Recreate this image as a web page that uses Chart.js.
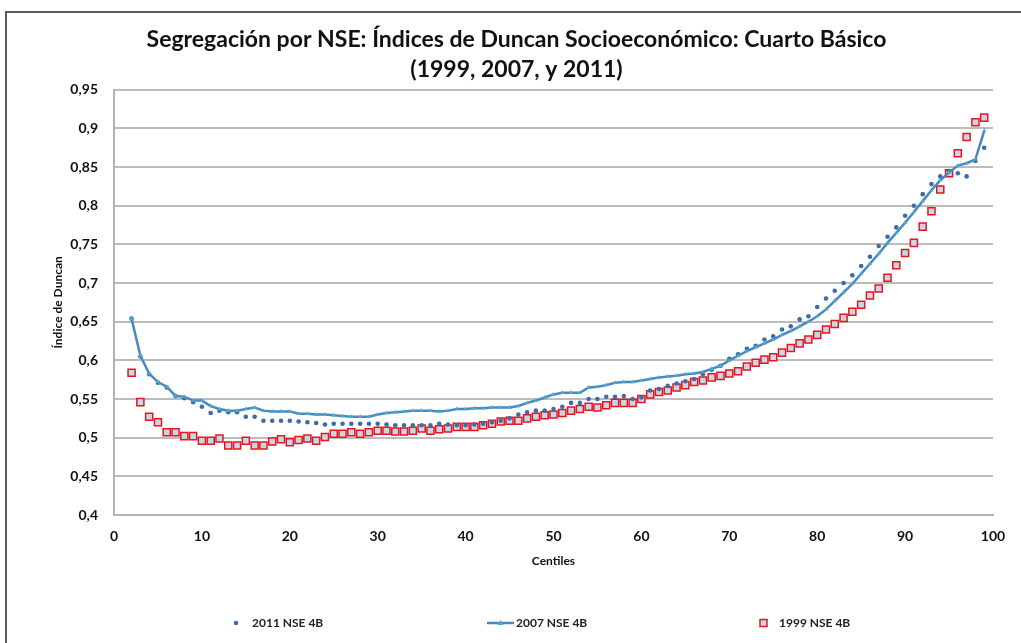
<!DOCTYPE html>
<html>
<head>
<meta charset="utf-8">
<script src="https://cdn.jsdelivr.net/npm/chart.js@4"></script>
<style>
  html, body { margin: 0; padding: 0; background: #fff; }
  #wrap { position: relative; width: 1021px; height: 643px; }
</style>
</head>
<body>
<div id="wrap"><canvas id="chart" width="1021" height="643"></canvas></div>
<script>
// Centiles (x axis)
const centiles = [
  2, 3, 4, 5, 6, 7, 8, 9, 10, 11, 12, 13, 14, 15, 16, 17, 18, 19, 20, 21,
  22, 23, 24, 25, 26, 27, 28, 29, 30, 31, 32, 33, 34, 35, 36, 37, 38, 39, 40, 41,
  42, 43, 44, 45, 46, 47, 48, 49, 50, 51, 52, 53, 54, 55, 56, 57, 58, 59, 60, 61,
  62, 63, 64, 65, 66, 67, 68, 69, 70, 71, 72, 73, 74, 75, 76, 77, 78, 79, 80, 81,
  82, 83, 84, 85, 86, 87, 88, 89, 90, 91, 92, 93, 94, 95, 96, 97, 98, 99
];

const nse2011 = [
  0.654, 0.605, 0.582, 0.571, 0.565, 0.554, 0.551, 0.546, 0.540, 0.532, 0.535, 0.533, 0.533, 0.527, 0.527, 0.522, 0.522, 0.522, 0.522, 0.521,
  0.520, 0.519, 0.517, 0.518, 0.518, 0.518, 0.518, 0.518, 0.518, 0.517, 0.516, 0.516, 0.516, 0.516, 0.516, 0.518, 0.517, 0.516, 0.516, 0.517,
  0.518, 0.520, 0.522, 0.525, 0.530, 0.533, 0.535, 0.535, 0.537, 0.540, 0.545, 0.545, 0.550, 0.550, 0.553, 0.553, 0.554, 0.550, 0.552, 0.561,
  0.563, 0.567, 0.570, 0.573, 0.576, 0.582, 0.588, 0.593, 0.602, 0.608, 0.615, 0.619, 0.627, 0.631, 0.640, 0.644, 0.653, 0.657, 0.669, 0.680,
  0.690, 0.700, 0.710, 0.722, 0.734, 0.748, 0.760, 0.772, 0.787, 0.800, 0.815, 0.828, 0.838, 0.845, 0.842, 0.838, 0.858, 0.875
];

const nse2007 = [
  0.654, 0.606, 0.583, 0.572, 0.566, 0.554, 0.553, 0.548, 0.548, 0.541, 0.537, 0.535, 0.535, 0.537, 0.539, 0.535, 0.534, 0.534, 0.534, 0.531,
  0.531, 0.530, 0.530, 0.529, 0.528, 0.527, 0.527, 0.527, 0.530, 0.532, 0.533, 0.534, 0.535, 0.535, 0.535, 0.534, 0.535, 0.537, 0.537, 0.538,
  0.538, 0.539, 0.539, 0.539, 0.541, 0.545, 0.548, 0.552, 0.556, 0.558, 0.558, 0.558, 0.565, 0.566, 0.568, 0.571, 0.572, 0.572, 0.574, 0.576,
  0.578, 0.579, 0.580, 0.582, 0.583, 0.585, 0.589, 0.593, 0.600, 0.606, 0.612, 0.617, 0.622, 0.627, 0.633, 0.638, 0.644, 0.650, 0.657, 0.666,
  0.677, 0.688, 0.699, 0.712, 0.725, 0.738, 0.752, 0.765, 0.778, 0.792, 0.806, 0.820, 0.833, 0.843, 0.852, 0.855, 0.860, 0.897
];

const nse1999 = [
  0.584, 0.546, 0.527, 0.520, 0.507, 0.507, 0.502, 0.502, 0.496, 0.496, 0.499, 0.490, 0.490, 0.496, 0.490, 0.490, 0.495, 0.498, 0.494, 0.497,
  0.499, 0.496, 0.501, 0.505, 0.505, 0.507, 0.505, 0.507, 0.509, 0.509, 0.508, 0.508, 0.509, 0.512, 0.509, 0.511, 0.512, 0.514, 0.514, 0.514,
  0.516, 0.518, 0.521, 0.522, 0.522, 0.525, 0.527, 0.529, 0.530, 0.532, 0.535, 0.537, 0.540, 0.539, 0.542, 0.545, 0.545, 0.545, 0.550, 0.556,
  0.559, 0.561, 0.565, 0.568, 0.572, 0.574, 0.578, 0.580, 0.583, 0.586, 0.592, 0.597, 0.601, 0.604, 0.610, 0.616, 0.622, 0.627, 0.633, 0.640,
  0.647, 0.655, 0.663, 0.672, 0.684, 0.693, 0.707, 0.723, 0.739, 0.752, 0.773, 0.793, 0.821, 0.842, 0.868, 0.889, 0.908, 0.914
];

const seriesNames = ["2011 NSE 4B", "2007 NSE 4B", "1999 NSE 4B"];
const titleLines = ["Segregación por NSE: Índices de Duncan Socioeconómico: Cuarto Básico", "(1999, 2007, y 2011)"];

const toPoints = vals => vals.map((v, i) => ({ x: centiles[i], y: v }));

const FONT = "Lato, 'Open Sans', sans-serif";
const C2011 = '#3d6ca6';
const C2007 = '#4a88c2';
const C2007_PT = '#4bacc6';
const C1999 = '#e8141c';
const C1999_FILL = '#c9d6ea';

// Outer frame of the chart (only top and left edge are visible)
const framePlugin = {
  id: 'frame',
  beforeDraw(chart) {
    const ctx = chart.ctx;
    ctx.save();
    ctx.fillStyle = '#fff';
    ctx.fillRect(0, 0, chart.width, chart.height);
    ctx.strokeStyle = '#5a5a5a';
    ctx.lineWidth = 2;
    ctx.strokeRect(6, 12, chart.width + 20, chart.height + 20);
    ctx.restore();
  }
};

// Legend spread across the bottom like the original
const legendPlugin = {
  id: 'spreadLegend',
  afterDraw(chart) {
    const ctx = chart.ctx;
    const y = 623;
    ctx.save();
    ctx.font = "bold 12px " + FONT;
    ctx.textBaseline = 'middle';

    // 2011
    ctx.beginPath();
    ctx.fillStyle = C2011;
    ctx.arc(236, y, 2.3, 0, Math.PI * 2);
    ctx.fill();
    ctx.fillStyle = '#222';
    ctx.fillText(seriesNames[0], 252, y);

    // 2007
    ctx.strokeStyle = C2007;
    ctx.lineWidth = 2.5;
    ctx.beginPath();
    ctx.moveTo(487, y);
    ctx.lineTo(514, y);
    ctx.stroke();
    ctx.fillStyle = C2007_PT;
    ctx.beginPath();
    ctx.moveTo(500.5, y - 3);
    ctx.lineTo(503.5, y + 2);
    ctx.lineTo(497.5, y + 2);
    ctx.closePath();
    ctx.fill();
    ctx.fillStyle = '#222';
    ctx.fillText(seriesNames[1], 516, y);

    // 1999
    ctx.fillStyle = C1999_FILL;
    ctx.fillRect(760, y - 3.5, 7, 7);
    ctx.strokeStyle = C1999;
    ctx.lineWidth = 1.5;
    ctx.strokeRect(760, y - 3.5, 7, 7);
    ctx.fillStyle = '#222';
    ctx.fillText(seriesNames[2], 779, y);
    ctx.restore();
  }
};

const ctx = document.getElementById('chart').getContext('2d');
new Chart(ctx, {
  type: 'scatter',
  data: {
    datasets: [
      {
        label: seriesNames[0],
        data: toPoints(nse2011),
        showLine: false,
        pointStyle: 'circle',
        pointRadius: 2.3,
        pointBackgroundColor: C2011,
        pointBorderWidth: 0,
        borderColor: C2011,
        order: 2
      },
      {
        label: seriesNames[1],
        data: toPoints(nse2007),
        showLine: true,
        borderColor: C2007,
        borderWidth: 2.5,
        tension: 0,
        pointStyle: 'triangle',
        pointRadius: 2.5,
        pointBackgroundColor: C2007_PT,
        pointBorderWidth: 0,
        order: 1
      },
      {
        label: seriesNames[2],
        data: toPoints(nse1999),
        showLine: false,
        pointStyle: 'rect',
        pointRadius: 5,
        pointBackgroundColor: C1999_FILL,
        pointBorderColor: C1999,
        pointBorderWidth: 1.5,
        order: 3
      }
    ]
  },
  options: {
    responsive: false,
    animation: false,
    devicePixelRatio: 1,
    layout: {
      padding: { left: 40, right: 28, top: 0, bottom: 68 }
    },
    plugins: {
      legend: { display: false },
      tooltip: { enabled: false },
      title: {
        display: true,
        text: titleLines,
        color: '#111',
        font: { family: FONT, size: 23, weight: 'bold', lineHeight: 1.3 },
        padding: { top: 25, bottom: 5 }
      }
    },
    scales: {
      x: {
        type: 'linear',
        min: 0,
        max: 100,
        ticks: {
          stepSize: 10,
          color: '#111',
          padding: 13,
          font: { family: FONT, size: 14, weight: 'bold' }
        },
        grid: { display: false, drawTicks: false },
        border: { display: true, color: '#b4b4b4', width: 2 },
        title: {
          display: true,
          text: 'Centiles',
          color: '#111',
          font: { family: FONT, size: 12, weight: 'bold' },
          padding: { top: 0, bottom: 7 }
        },
        afterFit(scale) { scale.height = 60; }
      },
      y: {
        min: 0.4,
        max: 0.95,
        ticks: {
          stepSize: 0.05,
          color: '#111',
          padding: 16,
          font: { family: FONT, size: 14, weight: 'bold' },
          callback: v => String(Math.round(v * 100) / 100).replace('.', ',')
        },
        grid: { color: '#bcbcbc', lineWidth: 2, drawTicks: false },
        border: { display: true, color: '#b4b4b4', width: 2 },
        title: {
          display: true,
          text: 'Índice de Duncan',
          color: '#111',
          font: { family: FONT, size: 12, weight: 'bold' },
          padding: { top: 11, bottom: 0 }
        },
        afterFit(scale) { scale.width = 74; }
      }
    }
  },
  plugins: [framePlugin, legendPlugin]
});
</script>
</body>
</html>
